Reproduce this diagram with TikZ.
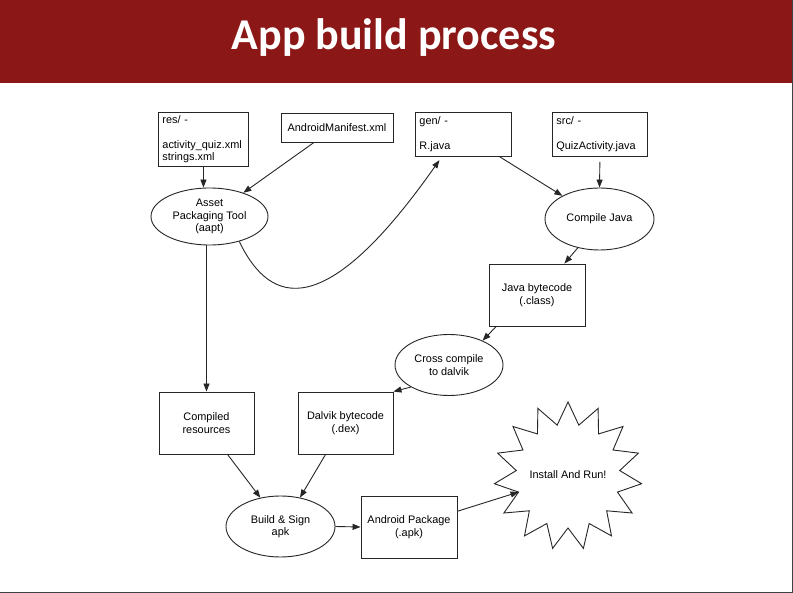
\documentclass[tikz,border=0pt]{standalone}
\usepackage{fontspec}
\setmainfont{Liberation Sans}
\newfontfamily\titlefont{Carlito}
\usetikzlibrary{shapes.geometric,arrows.meta,calc}
\definecolor{bandred}{RGB}{140,23,23}
\definecolor{edgegray}{RGB}{64,64,64}
\begin{document}
\begin{tikzpicture}[x=1pt,y=-1pt,
  base/.style={font=\fontsize{10.9}{12.5}\selectfont, draw=black!85, line width=0.9pt, fill=white},
  folder/.style={base, rectangle, anchor=north west, align=left, inner xsep=4pt, inner ysep=3pt},
  box/.style={base, rectangle, align=center, inner sep=0pt},
  oval/.style={base, ellipse, align=center, inner sep=0pt},
  starline/.style={draw=black!85, line width=0.9pt, fill=white, line join=miter},
  arr/.style={draw=black!85, line width=0.9pt, -{Triangle[length=8pt,width=6pt]}}
]
\useasboundingbox (0,0) rectangle (793,593);
\fill[white] (0,0) rectangle (793,593);
\fill[bandred] (0,0) rectangle (793,83);
\draw[edgegray, line width=1.5pt] (792.25,0) -- (792.25,592.25) -- (0,592.25);
\node[anchor=base, text=white, font=\titlefont\bfseries\fontsize{44}{50}\selectfont, inner sep=0pt] (title) at (394,50) {App build process};

% top boxes
\node[folder, text width=82pt, minimum height=53pt] (res) at (158,112) {res/ -\\\mbox{}\\activity\_quiz.xml\\strings.xml};
\node[box, minimum width=112pt, minimum height=29pt] (man) at (337,127.5) {AndroidManifest.xml};
\node[folder, text width=88pt, minimum height=44pt] (gen) at (415,112) {gen/ -\\\mbox{}\\R.java};
\node[folder, text width=87pt, minimum height=44pt] (src) at (552,112) {src/ -\\\mbox{}\\QuizActivity.java};

% process nodes
\node[oval, minimum width=117pt, minimum height=57pt] (aapt) at (209.5,216.5) {Asset\\Packaging Tool\\(aapt)};
\node[oval, minimum width=109pt, minimum height=62pt] (cj) at (599.5,219) {Compile Java};
\node[box, minimum width=96pt, minimum height=62pt] (jb) at (537,295) {Java bytecode\\(.class)};
\node[oval, minimum width=108pt, minimum height=61pt] (cc) at (449,365) {Cross compile\\to dalvik};
\node[box, minimum width=95pt, minimum height=62pt] (cr) at (206.5,423) {Compiled\\resources};
\node[box, minimum width=95pt, minimum height=62pt] (dv) at (345.5,423) {Dalvik bytecode\\(.dex)};
\node[oval, minimum width=109pt, minimum height=61pt] (bs) at (280.5,526.5) {Build \& Sign\\apk};
\node[box, minimum width=96pt, minimum height=62pt] (apk) at (409,527) {Android Package\\(.apk)};

% starburst
\coordinate (sc) at (568,476);
\draw[starline] ($(sc)+(-90:74)$) \foreach \k in {0,...,14}{ -- ($(sc)+({-78+24*\k}:52)$) -- ($(sc)+({-66+24*\k}:74)$) } -- cycle;
\node[font=\fontsize{10.9}{12.5}\selectfont, inner sep=0pt] (star) at (568,475) {Install And Run!};
\coordinate (starin) at ($(sc)+(162:52)$);

% connectors
\draw[arr] (res.south) -- (res.south |- aapt.north);
\draw[arr] (man.213) -- (aapt.35);
\draw[arr, shorten >=4pt] (aapt.-40) .. controls (270.7,306.7) and (325.7,322) .. ($(gen.south west)+(26.7,0)$);
\draw[arr] ($(gen.south east)+(-12,0)$) -- (cj.148);
\draw[arr, shorten <=5pt] (src.south) -- (cj.north);
\draw[arr] (cj.233) -- ($(jb.north east)+(-21,0)$);
\draw[arr] ($(jb.south west)+(7.7,0)$) -- (cc.36);
\draw[arr] (cc.210) -- (dv.north east);
\draw[arr] (aapt.south -| cr.north) -- (cr.north);
\draw[arr] ($(cr.south west)+(69,0)$) -- (bs.125);
\draw[arr] ($(dv.south west)+(28,0)$) -- (bs.56);
\draw[arr] (bs.east) -- (apk.west);
\draw[arr] (apk.18) -- (starin);
\end{tikzpicture}
\end{document}
